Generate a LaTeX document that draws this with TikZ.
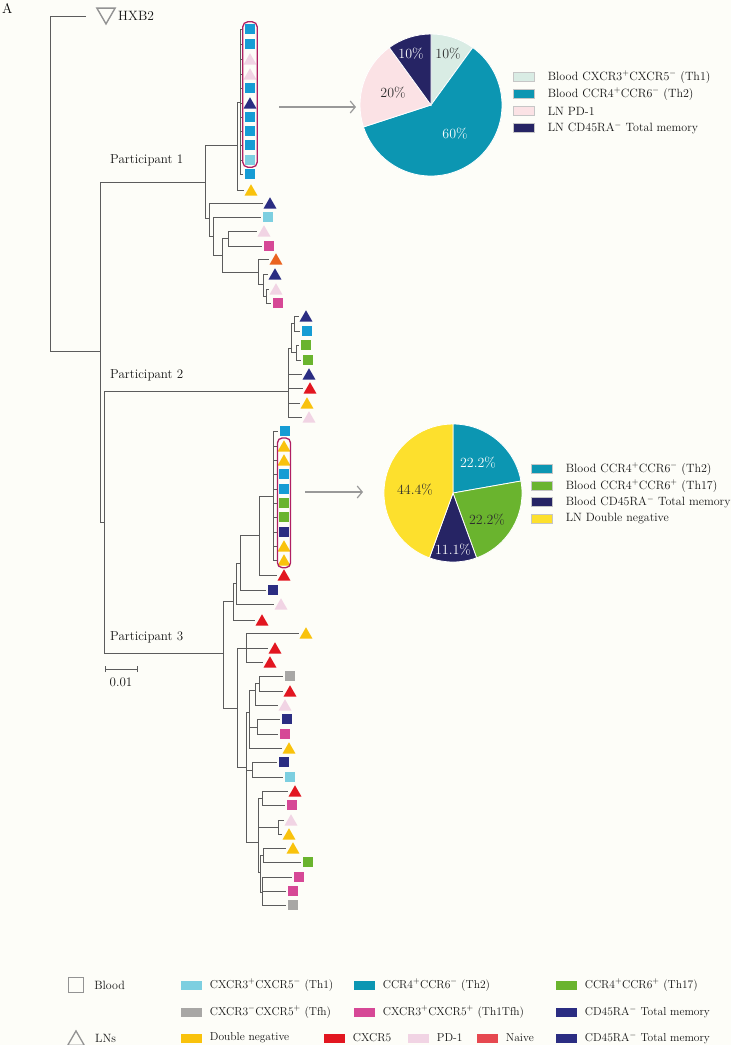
\documentclass[tikz,border=0pt]{standalone}
\usepackage{fontspec}
\usetikzlibrary{shapes.geometric,arrows.meta,positioning,fit}

\definecolor{bgcol}{RGB}{253,253,248}
\definecolor{treegray}{RGB}{92,92,92}
\definecolor{cth1}{RGB}{125,207,224}
\definecolor{cth2}{RGB}{22,156,212}
\definecolor{cteal}{RGB}{12,150,178}
\definecolor{cth17}{RGB}{106,180,46}
\definecolor{ctfh}{RGB}{168,167,165}
\definecolor{cttf}{RGB}{214,72,150}
\definecolor{cmem}{RGB}{43,45,130}
\definecolor{pnavy}{RGB}{38,36,100}
\definecolor{cdn}{RGB}{249,194,12}
\definecolor{cyel}{RGB}{253,224,45}
\definecolor{cx5}{RGB}{226,22,32}
\definecolor{cpd}{RGB}{241,212,228}
\definecolor{cpink}{RGB}{251,226,229}
\definecolor{cmint}{RGB}{217,236,228}
\definecolor{cnv}{RGB}{234,99,32}
\definecolor{cnvleg}{RGB}{230,72,80}
\definecolor{boxred}{RGB}{176,30,98}
\definecolor{txtdark}{RGB}{45,45,45}

\newcommand{\supp}{$^{+}$}
\newcommand{\supm}{$^{-}$}

% tree helpers: internal clade and tip with symbol
\newcommand{\clade}[4]{\coordinate (#1) at (#3,#4); \draw[branch] (#2) |- (#1);}
\newcommand{\leafnode}[5]{\coordinate (#1) at (#3,#4); \draw[branch] (#2) |- (#1);
  \node[#5] (#1m) at ([xshift=7pt]#1) {};}
\newcommand{\swatch}[5]{\node[swbox, fill=#4] (#1) at (#2,#3) {};
  \node[legtext, right=of #1] (#1t) {#5};}

\tikzset{
  branch/.style={draw=treegray, line width=0.75pt},
  sq/.style={rectangle, fill=#1, minimum size=10pt, inner sep=0pt},
  tri/.style={regular polygon, regular polygon sides=3, fill=#1, minimum size=15pt, inner sep=0pt, yshift=-1.8pt},
  Bth1/.style={sq=cth1}, Bth2/.style={sq=cth2}, Bth17/.style={sq=cth17},
  Btfh/.style={sq=ctfh}, Bttf/.style={sq=cttf}, Bmem/.style={sq=cmem},
  Ldn/.style={tri=cdn}, Lx5/.style={tri=cx5}, Lpd/.style={tri=cpd},
  Lnv/.style={tri=cnv}, Lmem/.style={tri=cmem},
  lbl/.style={anchor=west, inner sep=0pt, text=black!92, font=\fontsize{13}{15}\selectfont},
  pct/.style={inner sep=0pt, font=\fontsize{14}{16}\selectfont},
  slice/.style={draw=white, line width=0.8pt},
  clbox/.style={draw=boxred, line width=1.3pt, rounded corners=5pt, inner sep=2pt},
  arr/.style={draw=gray!80, line width=1.2pt, -{Straight Barb[length=5pt,width=12pt]}},
  swbox/.style={minimum width=21pt, minimum height=9pt, inner sep=0pt},
  legtext/.style={anchor=west, inner sep=0pt, text=black!92},
}

\begin{document}
\begin{tikzpicture}[x=1pt,y=-1pt]
\fill[bgcol] (0,0) rectangle (731,1045);
\useasboundingbox (0,0) rectangle (731,1045);

\node[anchor=north west, inner sep=0pt, font=\fontsize{14}{16}\selectfont] (panel) at (2,3) {A};

% backbone
\coordinate (root) at (50,351);
\coordinate (hxb) at (86,16);
\draw[branch] (root) |- (hxb);
\node[regular polygon, regular polygon sides=3, shape border rotate=180, draw=gray!85, line width=1.4pt,
  minimum size=21pt, inner sep=0pt, yshift=2.6pt] (hxbm) at (106,16) {};
\node[lbl, font=\fontsize{13.5}{15}\selectfont] (hxbt) at (118,16) {HXB2};
\clade{n1}{root}{100}{351}
\clade{p1}{n1}{205}{182}
\clade{n2}{n1}{104}{522}
\clade{p2}{n2}{288}{391}
\clade{p3}{n2}{223}{653}

\node[lbl] (lp1) at (110,160) {Participant 1};
\node[lbl] (lp2) at (110,375) {Participant 2};
\node[lbl] (lp3) at (110,637) {Participant 3};

% participant 1
\clade{p1a}{p1}{237}{145}
\clade{c1}{p1a}{240}{102}
\leafnode{a1}{c1}{243}{29}{Bth2}
\leafnode{a2}{c1}{243}{44}{Bth2}
\leafnode{a3}{c1}{243}{59}{Lpd}
\leafnode{a4}{c1}{243}{74}{Lpd}
\leafnode{a5}{c1}{243}{88}{Bth2}
\leafnode{a6}{c1}{243}{103}{Lmem}
\leafnode{a7}{c1}{243}{117}{Bth2}
\leafnode{a8}{c1}{243}{131}{Bth2}
\leafnode{a9}{c1}{243}{145}{Bth2}
\leafnode{a10}{c1}{243}{160}{Bth1}
\leafnode{a11}{c1}{243}{174}{Bth2}
\leafnode{a12}{p1a}{244}{190}{Ldn}
\clade{p1b}{p1}{209}{218}
\leafnode{b1}{p1b}{263}{203}{Lmem}
\clade{p1c}{p1b}{213}{236}
\leafnode{b2}{p1c}{261}{217}{Bth1}
\clade{p1d}{p1c}{222}{255}
\clade{p1e}{p1d}{228}{238}
\leafnode{b3}{p1e}{257}{231}{Lpd}
\leafnode{b4}{p1e}{262}{246}{Bttf}
\clade{p1f}{p1d}{258}{272}
\leafnode{b5}{p1f}{269}{259}{Lnv}
\clade{p1g}{p1f}{263}{284}
\leafnode{b6}{p1g}{268}{274}{Lmem}
\clade{p1h}{p1g}{266}{296}
\leafnode{b7}{p1h}{269}{289}{Lpd}
\leafnode{b8}{p1h}{271}{303}{Bttf}

% participant 2
\clade{p2a}{p2}{291}{348}
\clade{p2b}{p2a}{294}{323}
\leafnode{d1}{p2b}{299}{316}{Lmem}
\leafnode{d2}{p2b}{300}{331}{Bth2}
\clade{p2c}{p2a}{296}{352}
\leafnode{d3}{p2c}{299}{345}{Bth17}
\leafnode{d4}{p2c}{301}{360}{Bth17}
\leafnode{d5}{p2}{302}{374}{Lmem}
\leafnode{d6}{p2}{303}{388}{Lx5}
\leafnode{d7}{p2}{300}{403}{Ldn}
\leafnode{d8}{p2}{302}{417}{Lpd}

% participant 3
\clade{u1}{p3}{233}{601}
\clade{u2}{u1}{236}{583}
\clade{u3}{u2}{240}{563}
\clade{u4}{u3}{259}{535}
\clade{c3}{u4}{273}{496}
\leafnode{e1}{c3}{278}{431}{Bth2}
\leafnode{e2}{c3}{277}{446}{Ldn}
\leafnode{e3}{c3}{277}{460}{Ldn}
\leafnode{e4}{c3}{277}{474}{Bth2}
\leafnode{e5}{c3}{277}{489}{Bth2}
\leafnode{e6}{c3}{277}{503}{Bth17}
\leafnode{e7}{c3}{277}{517}{Bth17}
\leafnode{e8}{c3}{277}{532}{Bmem}
\leafnode{e9}{c3}{277}{546}{Ldn}
\leafnode{e10}{c3}{277}{560}{Ldn}
\leafnode{e11}{u4}{277}{575}{Lx5}
\leafnode{e12}{u3}{266}{590}{Bmem}
\leafnode{e13}{u2}{274}{604}{Lpd}
\leafnode{e14}{u1}{255}{620}{Lx5}
\clade{l0}{p3}{237}{708}
\clade{l1}{l0}{246}{648}
\leafnode{f1}{l1}{299}{633}{Ldn}
\leafnode{f2}{l1}{268}{648}{Lx5}
\leafnode{f3}{l1}{263}{662}{Lx5}
\clade{l2}{l0}{246}{767}
\clade{la}{l2}{249}{712}
\clade{la1}{la}{255}{690}
\clade{la3}{la1}{259}{683}
\leafnode{f4}{la3}{283}{676}{Btfh}
\leafnode{f5}{la3}{283}{691}{Lx5}
\leafnode{f6}{la1}{278}{705}{Lpd}
\clade{la2}{la}{257}{727}
\leafnode{f7}{la2}{280}{719}{Bmem}
\leafnode{f8}{la2}{278}{734}{Bttf}
\leafnode{f9}{la}{282}{748}{Ldn}
\clade{lb}{l2}{252}{770}
\leafnode{f10}{lb}{277}{762}{Bmem}
\leafnode{f11}{lb}{283}{777}{Bth1}
\clade{lc}{l2}{258}{842}
\clade{lc1}{lc}{262}{798}
\leafnode{f12}{lc1}{288}{791}{Lx5}
\leafnode{f13}{lc1}{285}{805}{Bttf}
\clade{lc2}{lc}{278}{827}
\leafnode{f14}{lc2}{284}{820}{Lpd}
\leafnode{f15}{lc2}{282}{834}{Ldn}
\clade{lc3}{lc}{260}{872}
\clade{lc4}{lc3}{263}{855}
\leafnode{f16}{lc4}{286}{848}{Ldn}
\leafnode{f17}{lc4}{301}{862}{Bth17}
\clade{lc5}{lc3}{262}{892}
\leafnode{f18}{lc5}{292}{877}{Bttf}
\leafnode{f19}{lc5}{286}{891}{Bttf}
\leafnode{f20}{lc5}{286}{905}{Btfh}

% scale bar
\coordinate (sb1) at (105,669);
\coordinate (sb2) at (137,669);
\draw[branch] (sb1) -- (sb2);
\draw[branch] ([yshift=-3pt]sb1) -- ([yshift=3pt]sb1);
\draw[branch] ([yshift=-3pt]sb2) -- ([yshift=3pt]sb2);
\node[lbl, anchor=center] (sbt) at (121,682) {0.01};

% selected clusters
\node[clbox, fit=(a1m)(a10m)] (box1) {};
\node[clbox, fit=(e2m)(e10m)] (box2) {};
\coordinate (ar1a) at (279,107);
\coordinate (ar1b) at (356,107);
\coordinate (ar2a) at (305,492);
\coordinate (ar2b) at (363,492);
\draw[arr] (ar1a) -- (ar1b);
\draw[arr] (ar2a) -- (ar2b);

% pie 1
\begin{scope}[shift={(431,105)}, y=1pt]
\fill[cmint, slice] (0,0) -- (90:71) arc[start angle=90, end angle=54, radius=71] -- cycle;
\fill[cteal, slice] (0,0) -- (54:71) arc[start angle=54, end angle=-162, radius=71] -- cycle;
\fill[cpink, slice] (0,0) -- (-162:71) arc[start angle=-162, end angle=-234, radius=71] -- cycle;
\fill[pnavy, slice] (0,0) -- (-234:71) arc[start angle=-234, end angle=-270, radius=71] -- cycle;
\end{scope}
\node[pct, text=white] (q1) at (411,54) {10\%};
\node[pct, text=txtdark] (q2) at (448,54) {10\%};
\node[pct, text=txtdark] (q3) at (393,93) {20\%};
\node[pct, text=white] (q4) at (455,134) {60\%};

\begin{scope}[node distance=13pt, legtext/.append style={font=\fontsize{12}{14}\selectfont},
  swbox/.append style={draw=gray!45, line width=0.4pt}]
\swatch{k1}{524}{77}{cmint}{Blood CXCR3\supp CXCR5\supm{} (Th1)}
\swatch{k2}{524}{94}{cteal}{Blood CCR4\supp CCR6\supm{} (Th2)}
\swatch{k3}{524}{111}{cpink}{LN PD-1}
\swatch{k4}{524}{128}{pnavy}{LN CD45RA\supm{} Total memory}
\end{scope}

% pie 2
\begin{scope}[shift={(453,493)}, y=1pt]
\fill[cteal, slice] (0,0) -- (90:69) arc[start angle=90, end angle=10, radius=69] -- cycle;
\fill[cth17, slice] (0,0) -- (10:69) arc[start angle=10, end angle=-70, radius=69] -- cycle;
\fill[pnavy, slice] (0,0) -- (-70:69) arc[start angle=-70, end angle=-110, radius=69] -- cycle;
\fill[cyel, slice] (0,0) -- (-110:69) arc[start angle=-110, end angle=-270, radius=69] -- cycle;
\end{scope}
\node[pct, text=white] (r1) at (478,463) {22.2\%};
\node[pct, text=txtdark] (r2) at (487,520) {22.2\%};
\node[pct, text=white] (r3) at (453,550) {11.1\%};
\node[pct, text=txtdark] (r4) at (415,490) {44.4\%};

\begin{scope}[node distance=13pt, legtext/.append style={font=\fontsize{12}{14}\selectfont},
  swbox/.append style={draw=gray!45, line width=0.4pt}]
\swatch{m1}{542}{469}{cteal}{Blood CCR4\supp CCR6\supm{} (Th2)}
\swatch{m2}{542}{486}{cth17}{Blood CCR4\supp CCR6\supp{} (Th17)}
\swatch{m3}{542}{502}{pnavy}{Blood CD45RA\supm{} Total memory}
\swatch{m4}{542}{519}{cyel}{LN Double negative}
\end{scope}

% bottom legend
\node[rectangle, draw=gray!85, line width=1.3pt, minimum size=15pt, inner sep=0pt] (kblood) at (76,985) {};
\node[lbl, font=\fontsize{12}{14}\selectfont, right=10pt of kblood] (kbloodt) {Blood};
\node[regular polygon, regular polygon sides=3, draw=gray!85, line width=1.3pt, minimum size=19pt,
  inner sep=0pt, yshift=-2.4pt] (kln) at (76,1038) {};
\node[lbl, font=\fontsize{12}{14}\selectfont] (klnt) at (95,1038) {LNs};

\begin{scope}[node distance=8pt, legtext/.append style={font=\fontsize{11.5}{13}\selectfont}]
\swatch{g1}{191}{985}{cth1}{CXCR3\supp CXCR5\supm{} (Th1)}
\swatch{g2}{364}{985}{cteal}{CCR4\supp CCR6\supm{} (Th2)}
\swatch{g3}{566}{985}{cth17}{CCR4\supp CCR6\supp{} (Th17)}
\swatch{g4}{191}{1012}{ctfh}{CXCR3\supm CXCR5\supp{} (Tfh)}
\swatch{g5}{364}{1012}{cttf}{CXCR3\supp CXCR5\supp{} (Th1Tfh)}
\swatch{g6}{566}{1012}{cmem}{CD45RA\supm{} Total memory}
\swatch{g7}{191}{1038}{cdn}{Double negative}
\swatch{g8}{334}{1038}{cx5}{CXCR5}
\swatch{g9}{418}{1038}{cpd}{PD-1}
\swatch{g10}{487}{1038}{cnvleg}{Naive}
\swatch{g11}{566}{1038}{cmem}{CD45RA\supm{} Total memory}
\end{scope}
\end{tikzpicture}
\end{document}
